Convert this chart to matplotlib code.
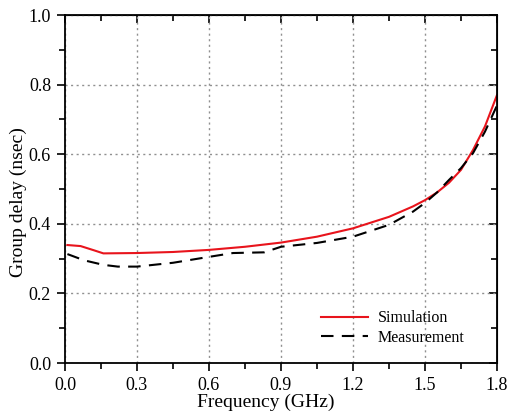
import matplotlib
matplotlib.use("Agg")
import matplotlib.pyplot as plt
from matplotlib.ticker import MultipleLocator

plt.rcParams["font.family"] = ["Liberation Serif", "DejaVu Serif"]

# group delay curves (GHz, nsec)
sim_f = [0.01, 0.065, 0.12, 0.16, 0.3, 0.45, 0.6, 0.75, 0.9, 1.05, 1.2, 1.35, 1.45,
         1.5, 1.55, 1.6, 1.65, 1.7, 1.75, 1.8]
sim_gd = [0.339, 0.336, 0.324, 0.315, 0.316, 0.319, 0.325, 0.334, 0.346, 0.363, 0.387,
          0.42, 0.45, 0.468, 0.49, 0.518, 0.555, 0.612, 0.68, 0.77]

meas_f = [0.01, 0.08, 0.16, 0.22, 0.3, 0.45, 0.6, 0.7, 0.83, 0.9, 1.05, 1.2, 1.35,
          1.45, 1.5, 1.55, 1.6, 1.65, 1.7, 1.75, 1.8]
meas_gd = [0.313, 0.295, 0.282, 0.277, 0.277, 0.288, 0.305, 0.316, 0.318, 0.334, 0.345,
           0.363, 0.397, 0.435, 0.46, 0.49, 0.526, 0.56, 0.603, 0.665, 0.74]

fig = plt.figure(figsize=(5.08, 4.12), dpi=100)
ax = fig.add_axes([65 / 508, 1 - 363 / 412, 432 / 508, 348 / 412])

ax.plot(sim_f, sim_gd, color="#e8141c", lw=1.5, label="Simulation")
ax.plot(meas_f, meas_gd, color="black", lw=1.5, ls=(0, (6, 4)), label="Measurement")

ax.set_xlim(0, 1.8)
ax.set_ylim(0, 1.0)
ax.xaxis.set_major_locator(MultipleLocator(0.3))
ax.xaxis.set_minor_locator(MultipleLocator(0.15))
ax.yaxis.set_major_locator(MultipleLocator(0.2))
ax.yaxis.set_minor_locator(MultipleLocator(0.1))
ax.xaxis.set_major_formatter(plt.FormatStrFormatter("%.1f"))
ax.yaxis.set_major_formatter(plt.FormatStrFormatter("%.1f"))
ax.grid(True, which="major", color="#909090", ls=(0, (1.5, 2.5)), lw=1.0)

ax.tick_params(which="both", direction="out", top=False, right=False, labelsize=13,
               width=1.2, pad=4)
ax.tick_params(which="major", length=6)
ax.tick_params(which="minor", length=4)
for spine in ax.spines.values():
    spine.set_linewidth(1.3)

# inward ticks on top and right
secx = ax.secondary_xaxis("top")
secx.xaxis.set_major_locator(MultipleLocator(0.3))
secx.xaxis.set_minor_locator(MultipleLocator(0.15))
secx.tick_params(which="both", direction="in", labeltop=False, width=1.2)
secx.tick_params(which="major", length=6)
secx.tick_params(which="minor", length=4)
secy = ax.secondary_yaxis("right")
secy.yaxis.set_major_locator(MultipleLocator(0.2))
secy.yaxis.set_minor_locator(MultipleLocator(0.1))
secy.tick_params(which="both", direction="in", labelright=False, width=1.2)
secy.tick_params(which="major", length=6)
secy.tick_params(which="minor", length=4)

ax.set_xlabel("Frequency (GHz)", fontsize=14)
ax.set_ylabel("Group delay (nsec)", fontsize=14)
ax.xaxis.set_label_coords(0.465, -0.088)
ax.yaxis.set_label_coords(-0.088, 0.463)

ax.legend(loc="lower right", bbox_to_anchor=(0.944, 0.027), frameon=False, fontsize=11.5,
          handlelength=2.9, handletextpad=0.65, labelspacing=0.2, borderpad=0)

fig.savefig("out.png", dpi=100)
